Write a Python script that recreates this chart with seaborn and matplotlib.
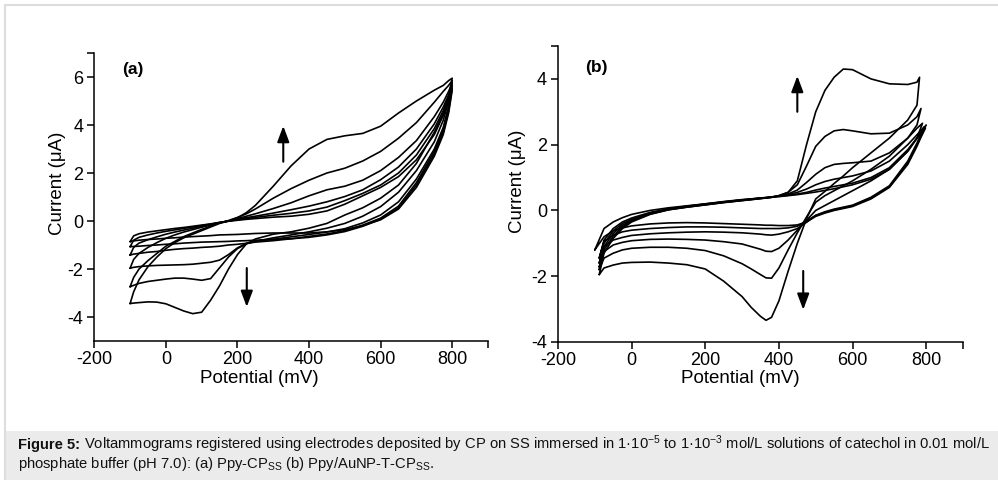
import numpy as np
import pandas as pd
import matplotlib
matplotlib.use('Agg')
import matplotlib.pyplot as plt
from matplotlib.ticker import FixedLocator
from matplotlib.lines import Line2D
from matplotlib.patches import Rectangle
import seaborn as sns

# ---------------- data: panel (a) Ppy-CP_SS ----------------
E_a = [-100, -90, -75, -50, -25, 0, 25, 50, 75, 100, 125, 150, 175, 200, 225, 250,
       300, 350, 400, 450, 500, 550, 600, 650, 700, 750, 775, 790, 800]
a_left = [-100, -100, -100, -100, -100, -100]
a_right = [800, 800, 800, 800, 800, 800]

a_fwd_1 = [-0.86, -0.62, -0.53, -0.46, -0.41, -0.36, -0.31, -0.27, -0.22, -0.17, -0.12, -0.06, -0.01, 0.03, 0.07, 0.10, 0.16, 0.20, 0.28, 0.42, 0.70, 1.05, 1.40, 1.85, 2.55, 3.60, 4.40, 5.00, 5.45]
a_rev_1 = [-0.86, -0.83, -0.80, -0.77, -0.75, -0.72, -0.70, -0.67, -0.65, -0.63, -0.61, -0.58, -0.57, -0.56, -0.54, -0.52, -0.50, -0.50, -0.50, -0.45, -0.36, -0.20, 0.05, 0.50, 1.40, 2.70, 3.60, 4.50, 5.45]
a_fwd_2 = [-1.07, -0.80, -0.68, -0.58, -0.50, -0.43, -0.37, -0.31, -0.25, -0.19, -0.13, -0.06, 0.00, 0.05, 0.10, 0.15, 0.24, 0.32, 0.42, 0.58, 0.85, 1.15, 1.50, 2.00, 2.75, 3.85, 4.60, 5.15, 5.55]
a_rev_2 = [-1.07, -1.06, -1.05, -1.02, -1.00, -0.97, -0.95, -0.92, -0.90, -0.88, -0.87, -0.86, -0.85, -0.83, -0.82, -0.80, -0.77, -0.74, -0.68, -0.58, -0.44, -0.22, 0.08, 0.55, 1.50, 2.80, 3.70, 4.60, 5.55]
a_fwd_3 = [-1.42, -1.10, -0.92, -0.78, -0.66, -0.55, -0.46, -0.38, -0.30, -0.23, -0.15, -0.07, 0.00, 0.07, 0.14, 0.20, 0.33, 0.47, 0.62, 0.80, 1.02, 1.30, 1.72, 2.25, 3.00, 4.05, 4.75, 5.25, 5.65]
a_rev_3 = [-1.42, -1.38, -1.35, -1.30, -1.27, -1.22, -1.18, -1.15, -1.13, -1.10, -1.08, -1.05, -1.00, -0.97, -0.93, -0.88, -0.82, -0.74, -0.64, -0.54, -0.40, -0.17, 0.12, 0.62, 1.60, 2.90, 3.80, 4.70, 5.65]
a_fwd_4 = [-1.97, -1.60, -1.35, -1.10, -0.90, -0.72, -0.58, -0.46, -0.36, -0.26, -0.17, -0.08, 0.00, 0.10, 0.20, 0.30, 0.52, 0.76, 1.05, 1.30, 1.45, 1.70, 2.10, 2.65, 3.35, 4.35, 4.95, 5.40, 5.75]
a_rev_4 = [-1.97, -1.93, -1.90, -1.87, -1.85, -1.84, -1.83, -1.82, -1.80, -1.76, -1.72, -1.63, -1.40, -1.12, -0.93, -0.85, -0.76, -0.66, -0.56, -0.46, -0.32, -0.08, 0.25, 0.80, 1.75, 3.00, 3.90, 4.80, 5.75]
a_fwd_5 = [-2.74, -2.35, -2.00, -1.65, -1.35, -1.05, -0.85, -0.65, -0.50, -0.35, -0.22, -0.08, 0.02, 0.15, 0.30, 0.50, 0.95, 1.35, 1.70, 2.00, 2.20, 2.50, 2.90, 3.45, 4.10, 4.95, 5.40, 5.65, 5.85]
a_rev_5 = [-2.74, -2.68, -2.60, -2.52, -2.47, -2.42, -2.38, -2.38, -2.42, -2.47, -2.40, -1.95, -1.50, -1.15, -0.95, -0.85, -0.70, -0.58, -0.45, -0.30, -0.10, 0.20, 0.60, 1.20, 2.10, 3.30, 4.20, 5.00, 5.85]
a_fwd_6 = [-3.44, -2.95, -2.45, -1.90, -1.50, -1.15, -0.90, -0.70, -0.55, -0.40, -0.25, -0.10, 0.00, 0.13, 0.35, 0.65, 1.45, 2.30, 3.00, 3.40, 3.55, 3.65, 3.95, 4.50, 5.00, 5.45, 5.65, 5.85, 5.95]
a_rev_6 = [-3.44, -3.42, -3.40, -3.37, -3.38, -3.45, -3.60, -3.75, -3.86, -3.80, -3.30, -2.70, -2.00, -1.40, -0.95, -0.75, -0.55, -0.45, -0.30, -0.10, 0.25, 0.55, 0.95, 1.50, 2.40, 3.70, 4.50, 5.20, 5.95]

# ---------------- data: panel (b) Ppy/AuNP-T-CP_SS ----------------
E_b = [-90, -75, -50, -25, 0, 50, 100, 150, 200, 250, 300, 325, 350, 365, 380, 400,
       425, 450, 475, 500, 525, 550, 575, 600, 650, 700, 750, 775, 790]
b_left = [-100, -88, -88, -88, -88, -88]
b_right = [800, 798, 795, 790, 786, 782]

b_fwd_1 = [-1.20, -0.55, -0.35, -0.22, -0.12, 0.00, 0.08, 0.14, 0.20, 0.26, 0.32, 0.34, 0.37, 0.38, 0.40, 0.42, 0.45, 0.48, 0.52, 0.56, 0.61, 0.66, 0.72, 0.78, 0.95, 1.25, 1.80, 2.20, 2.60]
b_rev_1 = [-1.20, -0.80, -0.62, -0.53, -0.47, -0.41, -0.38, -0.37, -0.38, -0.40, -0.42, -0.43, -0.44, -0.45, -0.45, -0.46, -0.46, -0.44, -0.35, -0.18, -0.08, 0.00, 0.06, 0.12, 0.35, 0.70, 1.40, 1.95, 2.60]
b_fwd_2 = [-1.45, -0.90, -0.55, -0.35, -0.23, -0.06, 0.05, 0.13, 0.20, 0.27, 0.33, 0.35, 0.38, 0.39, 0.41, 0.43, 0.46, 0.50, 0.55, 0.62, 0.68, 0.73, 0.78, 0.83, 1.00, 1.30, 1.85, 2.20, 2.50]
b_rev_2 = [-1.45, -0.95, -0.75, -0.65, -0.60, -0.55, -0.52, -0.50, -0.50, -0.51, -0.53, -0.54, -0.55, -0.55, -0.55, -0.55, -0.53, -0.48, -0.32, -0.15, -0.06, 0.02, 0.08, 0.14, 0.38, 0.72, 1.45, 2.00, 2.50]
b_fwd_3 = [-1.60, -1.00, -0.62, -0.40, -0.27, -0.08, 0.04, 0.12, 0.19, 0.26, 0.32, 0.35, 0.38, 0.39, 0.41, 0.44, 0.48, 0.55, 0.65, 0.78, 0.88, 0.95, 1.00, 1.05, 1.20, 1.50, 2.00, 2.30, 2.55]
b_rev_3 = [-1.60, -1.10, -0.90, -0.82, -0.76, -0.71, -0.68, -0.66, -0.65, -0.66, -0.68, -0.70, -0.72, -0.74, -0.75, -0.72, -0.65, -0.55, -0.36, -0.15, -0.04, 0.04, 0.10, 0.16, 0.40, 0.75, 1.50, 2.05, 2.55]
b_fwd_4 = [-1.72, -1.10, -0.70, -0.45, -0.30, -0.10, 0.03, 0.11, 0.18, 0.25, 0.31, 0.34, 0.37, 0.39, 0.41, 0.44, 0.50, 0.62, 0.85, 1.10, 1.30, 1.40, 1.43, 1.45, 1.50, 1.75, 2.20, 2.50, 2.65]
b_rev_4 = [-1.72, -1.25, -1.05, -0.97, -0.92, -0.88, -0.87, -0.88, -0.90, -0.95, -1.02, -1.10, -1.18, -1.24, -1.25, -1.15, -0.90, -0.60, -0.30, 0.00, 0.15, 0.30, 0.45, 0.60, 0.90, 1.25, 1.80, 2.20, 2.65]
b_fwd_5 = [-1.80, -1.20, -0.78, -0.50, -0.32, -0.11, 0.02, 0.10, 0.17, 0.24, 0.30, 0.33, 0.36, 0.38, 0.40, 0.45, 0.55, 0.78, 1.35, 1.95, 2.25, 2.42, 2.46, 2.42, 2.33, 2.35, 2.60, 2.85, 3.10]
b_rev_5 = [-1.80, -1.45, -1.30, -1.20, -1.15, -1.12, -1.12, -1.15, -1.22, -1.38, -1.62, -1.78, -1.95, -2.05, -2.06, -1.75, -1.20, -0.68, -0.20, 0.25, 0.45, 0.60, 0.75, 0.90, 1.25, 1.65, 2.20, 2.60, 3.10]
b_fwd_6 = [-1.95, -1.30, -0.85, -0.55, -0.35, -0.12, 0.02, 0.10, 0.17, 0.24, 0.30, 0.33, 0.36, 0.38, 0.40, 0.45, 0.55, 0.90, 2.00, 3.00, 3.65, 4.05, 4.30, 4.28, 4.00, 3.85, 3.83, 3.90, 4.05]
b_rev_6 = [-1.95, -1.75, -1.66, -1.60, -1.58, -1.57, -1.60, -1.65, -1.78, -2.15, -2.62, -2.95, -3.22, -3.34, -3.25, -2.75, -1.85, -1.00, -0.25, 0.35, 0.58, 0.82, 1.05, 1.30, 1.75, 2.20, 2.75, 3.20, 4.05]

# arrows: (potential, start current, end current)
arrows_a = [(328, 2.47, 3.96), (226, -1.96, -3.58)]
arrows_b = [(450, 3.00, 4.09), (466, -1.84, -3.02)]

xticks = [-200, 0, 200, 400, 600, 800]
yticks_a = [-4, -2, 0, 2, 4, 6]
yticks_b = [-4, -2, 0, 2, 4]

caption_bold = "Figure 5:"
caption_1 = (r"Voltammograms registered using electrodes deposited by CP on SS "
             r"immersed in 1·10$^{-5}$ to 1·10$^{-3}$ mol/L solutions of catechol in 0.01 mol/L")
caption_2 = r"phosphate buffer (pH 7.0): (a) Ppy-CP$_{\mathrm{SS}}$ (b) Ppy/AuNP-T-CP$_{\mathrm{SS}}$."

# ---------------- style ----------------
sns.set_theme(style='ticks')
plt.rcParams['font.family'] = ['Liberation Sans', 'DejaVu Sans']
plt.rcParams['mathtext.fontset'] = 'custom'
plt.rcParams['mathtext.rm'] = 'Liberation Sans'
plt.rcParams['mathtext.bf'] = 'Liberation Sans:bold'
plt.rcParams['mathtext.it'] = 'Liberation Sans:italic'
plt.rcParams['axes.unicode_minus'] = False


def loop_frame(grid, fwds, revs, lefts, rights):
    rows = []
    for k, (f, r) in enumerate(zip(fwds, revs)):
        E = list(grid)
        E[0] = lefts[k]
        E[-1] = rights[k]
        Es = E + E[::-1][1:]
        Is = list(f) + list(r)[::-1][1:]
        for j, (e, i) in enumerate(zip(Es, Is)):
            rows.append((k, j, e, i))
    return pd.DataFrame(rows, columns=['curve', 'step', 'E', 'I'])


df_a = loop_frame(E_a, [a_fwd_1, a_fwd_2, a_fwd_3, a_fwd_4, a_fwd_5, a_fwd_6],
                  [a_rev_1, a_rev_2, a_rev_3, a_rev_4, a_rev_5, a_rev_6], a_left, a_right)
df_b = loop_frame(E_b, [b_fwd_1, b_fwd_2, b_fwd_3, b_fwd_4, b_fwd_5, b_fwd_6],
                  [b_rev_1, b_rev_2, b_rev_3, b_rev_4, b_rev_5, b_rev_6], b_left, b_right)

W, H = 998, 480
fig = plt.figure(figsize=(W / 100, H / 100), dpi=100)
fig.patch.set_facecolor('white')

ax_a = fig.add_axes([94.3 / W, 1 - 341 / H, 393.7 / W, 288 / H])
ax_b = fig.add_axes([558 / W, 1 - 342 / H, 405 / W, 296 / H])

for ax, df, ylim, yt, ymin_tick, arrows, tag, tagpos, xlab_pos, ylab_pos in [
    (ax_a, df_a, (-5, 7), yticks_a, 7, arrows_a, '(a)', (0.070, 0.944), (0.418, -0.100), (-0.073, 0.549)),
    (ax_b, df_b, (-4, 5), yticks_b, 5, arrows_b, '(b)', (0.067, 0.927), (0.449, -0.096), (-0.078, 0.544)),
]:
    sns.lineplot(data=df, x='E', y='I', units='curve', estimator=None, sort=False,
                 color='black', lw=1.2, ax=ax, legend=False)
    ax.set_facecolor('none')
    ax.set_xlim(-200, 900)
    ax.set_ylim(*ylim)
    sns.despine(ax=ax)
    for s in ['left', 'bottom']:
        ax.spines[s].set_linewidth(1.1)
        ax.spines[s].set_color('black')
    ax.set_xticks(xticks)
    ax.set_yticks(yt)
    ax.set_xticklabels([str(v) for v in xticks])
    ax.set_yticklabels([str(v) for v in yt])
    ax.xaxis.set_minor_locator(FixedLocator([900]))
    ax.yaxis.set_minor_locator(FixedLocator([ymin_tick]))
    ax.tick_params(which='both', direction='out', length=5, width=1.1, color='black',
                   labelsize=13, labelcolor='black')
    ax.tick_params(axis='x', pad=2)
    ax.tick_params(axis='y', pad=3)
    ax.set_xlabel('Potential (mV)', fontsize=13.5, color='black')
    ax.set_ylabel('Current (μA)', fontsize=13.5, color='black')
    ax.xaxis.set_label_coords(*xlab_pos)
    ax.yaxis.set_label_coords(*ylab_pos)
    ax.text(tagpos[0], tagpos[1], tag, transform=ax.transAxes, fontsize=12.5,
            fontweight='bold', ha='left', va='center', color='black')
    for (x, y0, y1) in arrows:
        ax.annotate('', xy=(x, y1), xytext=(x, y0),
                    arrowprops=dict(arrowstyle='-|>,head_length=0.8,head_width=0.3',
                                    color='black', lw=1.5, shrinkA=0, shrinkB=0))

# frame and caption box
fig.add_artist(Line2D([5 / W, 1], [1 - 5 / H, 1 - 5 / H], transform=fig.transFigure,
                      color='#dddddd', lw=1.5))
fig.add_artist(Line2D([5 / W, 5 / W], [0, 1 - 5 / H], transform=fig.transFigure,
                      color='#dddddd', lw=1.5))
fig.add_artist(Rectangle((5.5 / W, 0), 1, 49 / H, transform=fig.transFigure,
                         facecolor='#ebebeb', edgecolor='none', zorder=0))
cap_fs = 10.65
y1 = 1 - 449 / H
t_bold = fig.text(18 / W, y1, caption_bold, fontsize=cap_fs, fontweight='bold',
                  ha='left', va='baseline', color='#111111')
fig.canvas.draw()
ext = t_bold.get_window_extent()
fig.text((ext.x1 + 4) / W, y1, caption_1, fontsize=cap_fs, ha='left', va='baseline', color='#111111')
fig.text(18 / W, 1 - 468 / H, caption_2, fontsize=cap_fs, ha='left', va='baseline', color='#111111')

fig.savefig('out.png', dpi=100, facecolor='white')
